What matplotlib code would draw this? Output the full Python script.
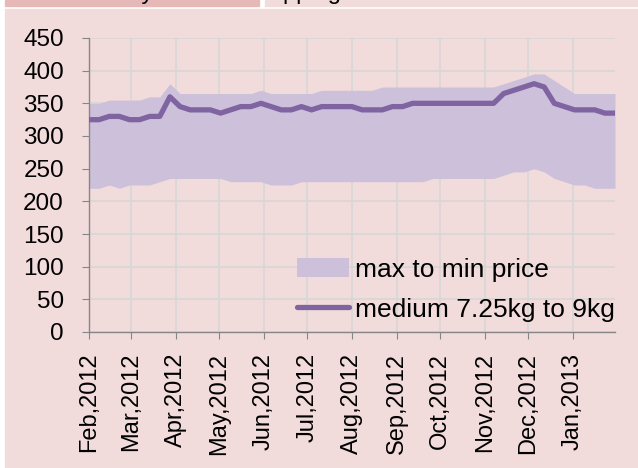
import pandas as pd
import matplotlib.pyplot as plt
import matplotlib.dates as mdates
from matplotlib.patches import Rectangle

# weekly prices, Feb 2012 - Jan 2013
weeks = pd.date_range("2012-02-01", periods=53, freq="7D")

medium = [325, 325, 330, 330, 325, 325, 330, 330, 360, 345, 340, 340, 340, 335,
          340, 345, 345, 350, 345, 340, 340, 345, 340, 345, 345, 345, 345, 340,
          340, 340, 345, 345, 350, 350, 350, 350, 350, 350, 350, 350, 350, 365,
          370, 375, 380, 375, 350, 345, 340, 340, 340, 335, 335]
max_price = [350, 350, 355, 355, 355, 355, 360, 360, 380, 365, 365, 365, 365, 365,
             365, 365, 365, 370, 365, 365, 365, 365, 365, 370, 370, 370, 370, 370,
             370, 375, 375, 375, 375, 375, 375, 375, 375, 375, 375, 375, 375, 380,
             385, 390, 395, 395, 385, 375, 365, 365, 365, 365, 365]
min_price = [220, 220, 225, 220, 225, 225, 225, 230, 235, 235, 235, 235, 235, 235,
             230, 230, 230, 230, 225, 225, 225, 230, 230, 230, 230, 230, 230, 230,
             230, 230, 230, 230, 230, 230, 235, 235, 235, 235, 235, 235, 235, 240,
             245, 245, 250, 245, 235, 230, 225, 225, 220, 220, 220]

plt.rcParams['font.family'] = ['Liberation Sans', 'DejaVu Sans']

fig = plt.figure(figsize=(6.38, 4.68), dpi=100, facecolor="white")

# background panel and the cut-off header strip above it
W, H = 638, 468
fig.patches.append(Rectangle((5 / W, 0), 1, (H - 9) / H, transform=fig.transFigure,
                             color="#f2dcdb", zorder=-10))
fig.patches.append(Rectangle((5 / W, (H - 6) / H), 254 / W, 6 / H, transform=fig.transFigure,
                             color="#e6b9b8", zorder=-10))
fig.patches.append(Rectangle((265 / W, (H - 6) / H), 1, 6 / H, transform=fig.transFigure,
                             color="#f2dcdb", zorder=-10))
fig.text(118 / W, (H + 0.5) / H, "Turkey", ha="center", va="baseline", fontsize=17)
fig.text(242 / W, (H + 0.5) / H, "Shopping", ha="left", va="baseline", fontsize=17)

ax = fig.add_axes([89 / W, 1 - 332 / H, 526 / W, 294 / H])
ax.set_facecolor("none")

ax.fill_between(weeks, min_price, max_price, color="#ccc0da", lw=0,
                label="max to min price", zorder=2)
ax.plot(weeks, medium, color="#8064a2", lw=3.8, solid_capstyle="round",
        label="medium 7.25kg to 9kg", zorder=3)

ax.set_ylim(0, 450)
ax.set_yticks(range(0, 451, 50))
ax.set_xlim(weeks[0], weeks[-1])
ax.xaxis.set_major_locator(mdates.MonthLocator())
ax.xaxis.set_major_formatter(mdates.DateFormatter("%b,%Y"))
plt.setp(ax.get_xticklabels(), rotation=90)

ax.grid(True, color="#d6d6d6", lw=1.1, zorder=1)
ax.set_axisbelow(True)
for s in ["top", "right"]:
    ax.spines[s].set_visible(False)
for s in ["left", "bottom"]:
    ax.spines[s].set_color("#868686")
    ax.spines[s].set_linewidth(1.0)
ax.tick_params(axis="y", labelsize=17.5, length=5, color="#868686", pad=13)
ax.tick_params(axis="x", labelsize=17, length=5, color="#868686", pad=10)

ax.legend(loc="lower left", bbox_to_anchor=(0.395, 0.035), frameon=False,
          fontsize=19, handlelength=1.97, handletextpad=0.23,
          borderpad=0, borderaxespad=0, labelspacing=0.6)

fig.savefig("out.png", dpi=100, facecolor="white")
